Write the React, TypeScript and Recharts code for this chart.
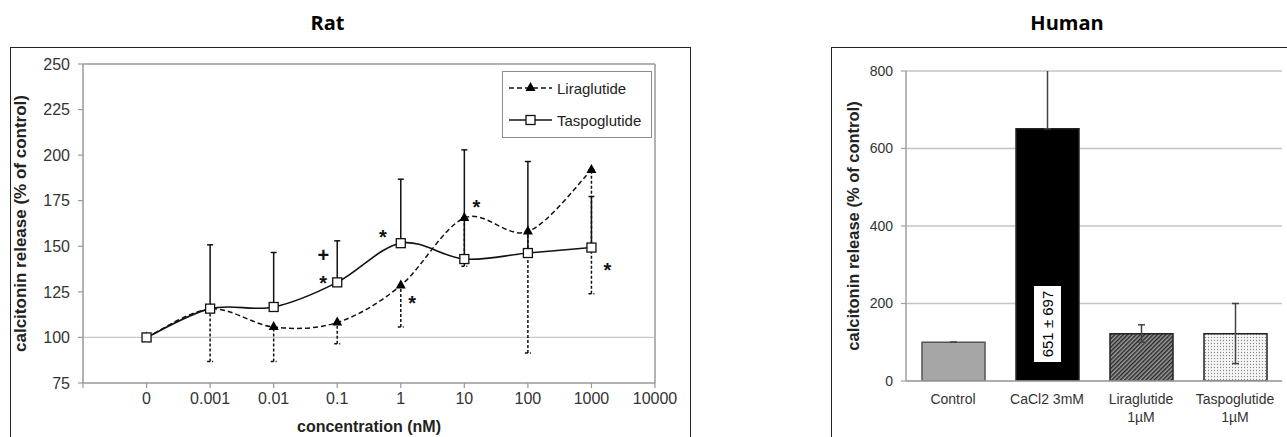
import React from 'react';
import {
  ComposedChart, Line, XAxis, YAxis, ErrorBar, ReferenceLine, ReferenceDot, Legend,
  BarChart, Bar, Cell, CartesianGrid, LabelList,
} from 'recharts';

// ---------- Rat data ----------
const concPositions = [0, 1, 2, 3, 4, 5, 6, 7];
const concTickLabels = ['0', '0.001', '0.01', '0.1', '1', '10', '100', '1000', '10000'];
const liraglutideMean = [100, 115.6, 105.7, 108.2, 128.5, 165.5, 158.1, 191.9];
const liraglutideLower = [100, 86.8, 86.8, 96.5, 105.7, 139, 91.4, 124];
const taspoglutideMean = [100, 115.8, 116.7, 130.2, 151.7, 143, 146.3, 149.3];
const taspoglutideUpper = [100, 150.8, 146.6, 153, 186.8, 202.9, 196.5, 177.3];
const ratYTicks = [75, 100, 125, 150, 175, 200, 225, 250];
const ratXTicks = [-1, 0, 1, 2, 3, 4, 5, 6, 7, 8];
const annotationPos = [2.78, 2.78, 3.72, 4.18, 5.19, 7.25];
const annotationValue = [145, 131.5, 156.7, 120.7, 173, 138.4];
const annotationText = ['+', '*', '*', '*', '*', '*'];

// ---------- Human data ----------
const humanCategories = ['Control', 'CaCl2 3mM', 'Liraglutide\n1µM', 'Taspoglutide\n1µM'];
const humanMean = [100, 651, 122, 122];
const humanErrUp = [0, 697, 23, 78];
const humanErrDown = [0, 0, 22, 77];
const humanValueLabels = ['', '651 ± 697', '', ''];
const humanYTicks = [0, 200, 400, 600, 800];
const humanBoundTicks = [0, 1, 2, 3, 4];
const humanFills = ['#a6a6a6', '#000000', 'url(#hatchPat)', 'url(#dotPat)'];

const FONT = '"Liberation Sans", Arial, sans-serif';

const ratData = concPositions.map((p, i) => ({
  pos: p,
  lira: liraglutideMean[i],
  liraErr: [liraglutideMean[i] - liraglutideLower[i], 0],
  tas: taspoglutideMean[i],
  tasErr: [0, taspoglutideUpper[i] - taspoglutideMean[i]],
}));

const annotations = annotationPos.map((p, i) => ({ pos: p, value: annotationValue[i], text: annotationText[i] }));

const humanData = humanCategories.map((c, i) => ({
  name: c,
  value: humanMean[i],
  err: [humanErrDown[i], humanErrUp[i]],
  label: humanValueLabels[i],
}));

// Excel-like smoothed line (Catmull-Rom)
function excelSmooth(context: any) {
  let xs: number[] = [];
  let ys: number[] = [];
  return {
    areaStart() {},
    areaEnd() {},
    lineStart() { xs = []; ys = []; },
    lineEnd() {
      const n = xs.length;
      if (!n) return;
      context.moveTo(xs[0], ys[0]);
      for (let i = 0; i < n - 1; i++) {
        const a = Math.max(i - 1, 0);
        const d = Math.min(i + 2, n - 1);
        const c1x = xs[i] + (xs[i + 1] - xs[a]) / 6;
        const c1y = ys[i] + (ys[i + 1] - ys[a]) / 6;
        const c2x = xs[i + 1] - (xs[d] - xs[i]) / 6;
        const c2y = ys[i + 1] - (ys[d] - ys[i]) / 6;
        context.bezierCurveTo(c1x, c1y, c2x, c2y, xs[i + 1], ys[i + 1]);
      }
    },
    point(x: number, y: number) { xs.push(+x); ys.push(+y); },
  };
}

const Triangle = (props: any) => {
  const { cx, cy, index } = props;
  if (cx == null || cy == null) return <g key={`t${index}`} />;
  return <path key={`t${index}`} d={`M${cx},${cy - 6} L${cx + 5},${cy + 3} L${cx - 5},${cy + 3} Z`} fill="#000" />;
};
const Square = (props: any) => {
  const { cx, cy, index } = props;
  if (cx == null || cy == null) return <g key={`s${index}`} />;
  return <rect key={`s${index}`} x={cx - 4.5} y={cy - 4.5} width={9} height={9} fill="#fff" stroke="#111" strokeWidth={1.3} />;
};

const RatLegend = () => (
  <div style={{
    width: 150, height: 67, boxSizing: 'border-box', border: '1.5px solid #8c8c8c', background: '#fff',
    fontFamily: FONT, fontSize: 15, color: '#222',
  }}>
    {[{ name: 'Liraglutide', dash: '5 3' }, { name: 'Taspoglutide', dash: undefined }].map((it, i) => (
      <div key={it.name} style={{ display: 'flex', alignItems: 'center', height: 32, paddingLeft: 6 }}>
        <svg width={43} height={14} style={{ display: 'block' }}>
          <line x1={0} x2={43} y1={7} y2={7} stroke="#111" strokeWidth={1.5} strokeDasharray={it.dash} />
          {i === 0
            ? <path d="M21.5,1 L26.5,10 L16.5,10 Z" fill="#000" />
            : <rect x={17} y={2.5} width={9} height={9} fill="#fff" stroke="#111" strokeWidth={1.3} />}
        </svg>
        <span style={{ marginLeft: 5 }}>{it.name}</span>
      </div>
    ))}
  </div>
);

const AnnotationShape = (text: string) => (props: any) => (
  <text x={props.cx} y={props.cy} dy={text === '*' ? '0.5em' : '0.35em'} textAnchor="middle"
    fontFamily={FONT} fontSize={text === '*' ? 20 : 20} fontWeight={700} fill="#111">
    {text}
  </text>
);

const CategoryTick = (props: any) => {
  const { x, y, payload } = props;
  const lines = String(payload.value).split('\n');
  return (
    <text x={x} y={y} textAnchor="middle" fontFamily={FONT} fontSize={14} fill="#333">
      {lines.map((l, i) => (
        <tspan key={i} x={x} dy={i === 0 ? 14.6 : 18}>{l}</tspan>
      ))}
    </text>
  );
};

const ValueBox = (p: any) => {
  if (!p.value) return null;
  const cx = p.x + p.width / 2;
  const cy = p.y + p.height - 57;
  return (
    <g>
      <rect x={cx - 13.5} y={cy - 38} width={27} height={76} fill="#fff" />
      <text x={cx} y={cy} dy="0.35em" transform={`rotate(-90 ${cx} ${cy})`} textAnchor="middle"
        fontFamily={FONT} fontSize={15} fill="#000">{p.value}</text>
    </g>
  );
};

export default function App() {
  return (
    <div style={{ position: 'absolute', left: 0, top: 0, width: 1287, height: 437, overflow: 'hidden', background: '#fff' }}>
      <svg width={1287} height={40} style={{ position: 'absolute', left: 0, top: 0 }}>
        <text x={327.5} y={30} textAnchor="middle" fontFamily='"Open Sans", sans-serif' fontWeight={700} fontSize={20} fill="#000">Rat</text>
        <text x={1067} y={30} textAnchor="middle" fontFamily='"Open Sans", sans-serif' fontWeight={700} fontSize={20} fill="#000">Human</text>
      </svg>

      {/* Rat chart */}
      <div style={{ position: 'absolute', left: 10, top: 47, width: 679, height: 420, border: '1px solid #222' }}>
        <ComposedChart width={679} height={400} data={ratData} margin={{ top: 16, right: 35, bottom: 0, left: 0 }}>
          <XAxis dataKey="pos" type="number" domain={[-1, 8]} ticks={ratXTicks} interval={0} allowDataOverflow
            tickFormatter={(v: number) => concTickLabels[v] ?? ''}
            height={65} tickSize={5} tickMargin={5}
            axisLine={{ stroke: '#999', strokeWidth: 1.5 }} tickLine={{ stroke: '#999', strokeWidth: 1.2 }}
            tick={{ fontFamily: FONT, fontSize: 16, fill: '#333' }}
            label={{ value: 'concentration (nM)', position: 'insideTop', offset: 38, fontFamily: FONT, fontSize: 16, fontWeight: 700, fill: '#222' }} />
          <YAxis type="number" domain={[75, 250]} ticks={ratYTicks} interval={0} allowDataOverflow
            width={72} tickSize={5} tickMargin={8}
            axisLine={{ stroke: '#999', strokeWidth: 1.5 }} tickLine={{ stroke: '#999', strokeWidth: 1.2 }}
            tick={{ fontFamily: FONT, fontSize: 16, fill: '#333' }}
            label={{ value: 'calcitonin release (% of control)', angle: -90, position: 'insideLeft', offset: 9,
              style: { textAnchor: 'middle', fontFamily: FONT, fontSize: 17, fontWeight: 700, fill: '#222' } }} />
          <ReferenceLine y={250} stroke="#999" strokeWidth={1.5} />
          <ReferenceLine x={8} stroke="#999" strokeWidth={1.5} />
          <ReferenceLine y={100} stroke="#c8c8c8" strokeWidth={1.2} />
          <Line dataKey="lira" name="Liraglutide" type={excelSmooth as any} stroke="#111" strokeWidth={1.5}
            strokeDasharray="5 3" dot={Triangle} activeDot={false} isAnimationActive={false}>
            <ErrorBar dataKey="liraErr" direction="y" width={3} stroke="#111" strokeWidth={1.5} strokeDasharray="3 2" />
          </Line>
          <Line dataKey="tas" name="Taspoglutide" type={excelSmooth as any} stroke="#111" strokeWidth={1.6}
            dot={Square} activeDot={false} isAnimationActive={false}>
            <ErrorBar dataKey="tasErr" direction="y" width={3} stroke="#111" strokeWidth={1.5} />
          </Line>
          {annotations.map((a, i) => (
            <ReferenceDot key={i} x={a.pos} y={a.value} r={0} shape={AnnotationShape(a.text)} />
          ))}
          <Legend content={() => <RatLegend />} layout="horizontal" verticalAlign="middle" align="center"
            wrapperStyle={{ left: 491, top: 23, width: 150, height: 67 }} />
        </ComposedChart>
      </div>

      {/* Human chart */}
      <div style={{ position: 'absolute', left: 831, top: 47, width: 470, height: 420, border: '1px solid #222' }}>
        <BarChart width={455} height={400} data={humanData} margin={{ top: 23, right: 5, bottom: 0, left: 0 }}>
          <defs>
            <pattern id="hatchPat" patternUnits="userSpaceOnUse" width={3} height={3} patternTransform="rotate(45)">
              <rect width={3} height={3} fill="#9a9a9a" />
              <line x1={0.75} y1={0} x2={0.75} y2={3} stroke="#1a1a1a" strokeWidth={1.3} />
            </pattern>
            <pattern id="dotPat" patternUnits="userSpaceOnUse" width={3} height={3}>
              <rect width={3} height={3} fill="#f7f7f7" />
              <circle cx={1.5} cy={1.5} r={0.65} fill="#8a8a8a" />
            </pattern>
          </defs>
          <XAxis xAxisId="bounds" type="number" domain={[0, 4]} ticks={humanBoundTicks} interval={0}
            allowDataOverflow height={0} tick={false} axisLine={false} tickSize={5}
            tickLine={{ stroke: '#a0a0a0', strokeWidth: 1.2 }} />
          <XAxis xAxisId="cat" dataKey="name" type="category" height={67} tickLine={false} tickSize={6} tickMargin={2}
            interval={0} axisLine={{ stroke: '#a0a0a0', strokeWidth: 1.5 }} tick={<CategoryTick />} />
          <YAxis type="number" domain={[0, 800]} ticks={humanYTicks} interval={0} allowDataOverflow
            width={74} tickSize={5} tickMargin={8}
            axisLine={{ stroke: '#a0a0a0', strokeWidth: 1.5 }} tickLine={{ stroke: '#a0a0a0', strokeWidth: 1.2 }}
            tick={{ fontFamily: FONT, fontSize: 14, fill: '#333' }}
            label={{ value: 'calcitonin release (% of control)', angle: -90, position: 'insideLeft', offset: 21,
              style: { textAnchor: 'middle', fontFamily: FONT, fontSize: 16.5, fontWeight: 700, fill: '#222' } }} />
          <CartesianGrid xAxisId="cat" vertical={false} stroke="#c4c4c4" strokeWidth={1.3} />
          <Bar id="humanBars" xAxisId="cat" dataKey="value" barSize={63} stroke="#333" strokeWidth={1.5} isAnimationActive={false}>
            {humanData.map((d, i) => (
              <Cell key={i} fill={humanFills[i]} stroke={i === 0 ? '#555' : '#222'} />
            ))}
            <ErrorBar dataKey="err" direction="y" width={3.5} stroke="#444" strokeWidth={1.5}
              clipPath="url(#clipPath-humanBars)" />
            <LabelList dataKey="label" content={ValueBox} />
          </Bar>
        </BarChart>
      </div>
    </div>
  );
}
